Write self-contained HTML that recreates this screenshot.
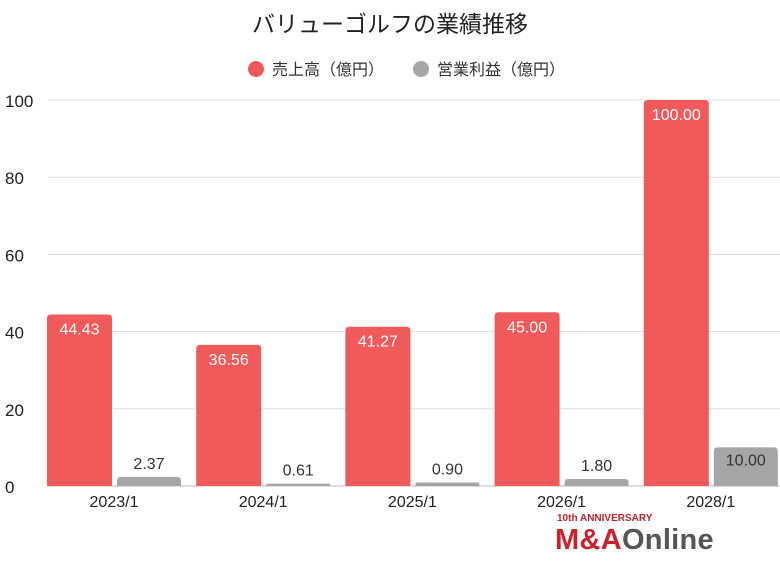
<!DOCTYPE html>
<html><head><meta charset="utf-8"><style>
body{margin:0;background:#fff;font-family:"Liberation Sans","Noto Sans CJK JP",sans-serif;}
svg text{font-family:"Liberation Sans","Noto Sans CJK JP",sans-serif;}
</style></head><body>
<svg width="780" height="556" viewBox="0 0 780 556">
<text x="390" y="32" text-anchor="middle" font-size="23" fill="#222">バリューゴルフの業績推移</text>
<g>
<circle cx="256" cy="69" r="8" fill="#f15a5a"/>
<text x="272" y="75" font-size="16" fill="#333">売上高（億円）</text>
<circle cx="421" cy="69" r="8" fill="#a6a6a6"/>
<text x="437" y="75" font-size="16" fill="#333">営業利益（億円）</text>
</g>
<g id="grid"></g><g id="bars"></g>
<g>
<text x="557" y="521" font-size="10" font-weight="bold" fill="#b5262c">10th ANNIVERSARY</text>
<text x="555" y="549" font-size="29" font-weight="bold" fill="#c8232c" letter-spacing="0.3">M&amp;A<tspan fill="#555">Online</tspan></text>
</g>
</svg>
<script>
const categories=["2023/1","2024/1","2025/1","2026/1","2028/1"];
const sales=[44.43,36.56,41.27,45.00,100.00];
const profit=[2.37,0.61,0.90,1.80,10.00];
const yTicks=[0,20,40,60,80,100];
const NS="http://www.w3.org/2000/svg";
const y=v=>486-v*3.86;
const x=i=>47+i*149.2;
function mk(tag,attrs,parent){const e=document.createElementNS(NS,tag);for(const k in attrs)e.setAttribute(k,attrs[k]);parent.appendChild(e);return e;}
const grid=document.getElementById('grid'),bars=document.getElementById('bars');
yTicks.forEach(t=>{
 const l=mk('line',{x1:48,x2:780,y1:y(t),y2:y(t),stroke:t===0?'#bbb':'#ddd','stroke-width':1},grid);
 
 
 const tx=mk('text',{x:5,y:y(t)+7,'font-size':17,fill:'#222'},grid);tx.textContent=t;
 
 
});
function rbar(x0,w,v,fill){const top=y(v),b=486,r=Math.min(4,(b-top)/2);
 return `M${x0},${b}V${top+r}Q${x0},${top} ${x0+r},${top}H${x0+w-r}Q${x0+w},${top} ${x0+w},${top+r}V${b}Z`;}
categories.forEach((c,i)=>{
 const sx=x(i);
 const s=mk('path',{d:rbar(sx,65,sales[i]),fill:'#f15a5a'},bars);
 
 
 const st=mk('text',{x:sx+32.5,y:y(sales[i])+20,'text-anchor':'middle','font-size':16,fill:'#fff'},bars);st.textContent=sales[i].toFixed(2);
 
 
 const gx=sx+70;
 const g=mk('path',{d:rbar(gx,64,profit[i]),fill:'#a6a6a6'},bars);
 
 
 const inside=profit[i]>6;
 const gt=mk('text',{x:gx+32,y:inside?y(profit[i])+18:y(profit[i])-8,'text-anchor':'middle','font-size':16,fill:'#333'},bars);gt.textContent=profit[i].toFixed(2);
 
 
 const xt=mk('text',{x:sx+67,y:507,'text-anchor':'middle','font-size':16,fill:'#222'},bars);xt.textContent=c;
 
 
});
</script>
</body></html>
